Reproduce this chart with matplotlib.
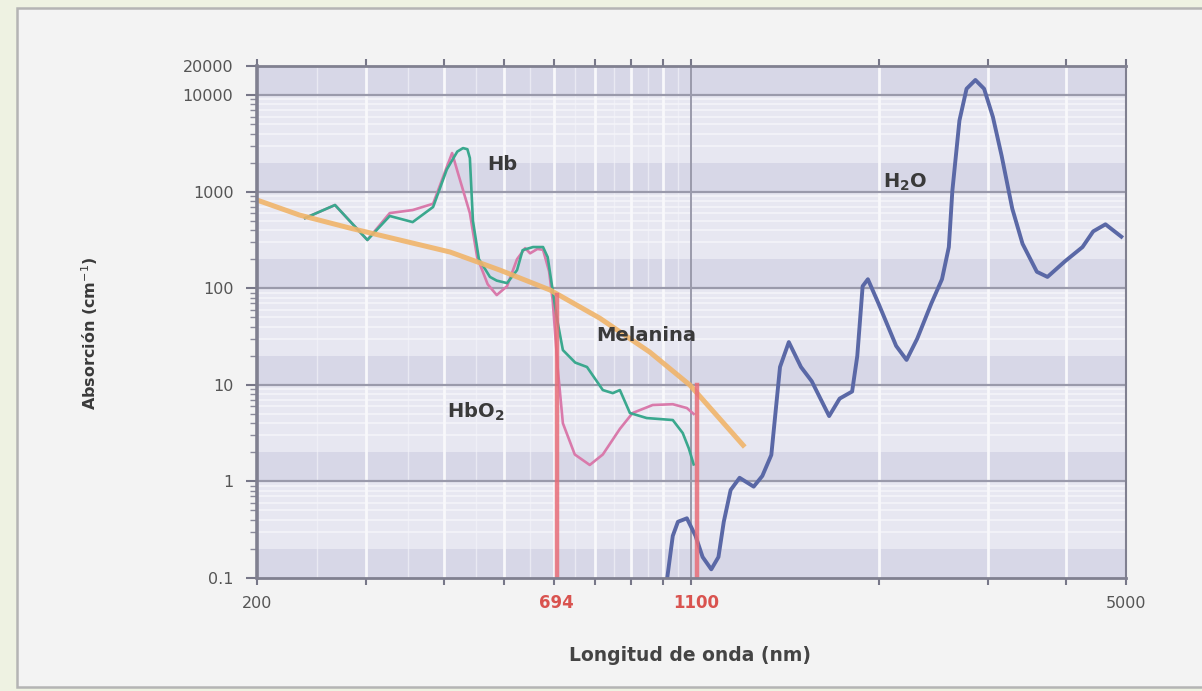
import numpy as np
import matplotlib
matplotlib.use("Agg")
import matplotlib.pyplot as plt
from matplotlib.patches import Rectangle
from matplotlib.ticker import FixedLocator, NullFormatter

# ---------------- data ----------------
melanin_x = [200, 234, 282, 340, 409, 492, 592, 712, 857, 994, 1218]
melanin_y = [819, 573, 420, 315, 237, 154, 96, 49, 21.8, 9.95, 2.27]

hb_x = [239, 267, 301, 327, 356, 384, 404, 420, 429, 436, 440, 445, 455, 474, 486, 505,
        524, 535, 556, 577, 587, 607, 621, 650, 679, 720, 747, 767, 796, 847, 933, 968, 990, 1008]
hb_y = [533, 727, 316, 560, 484, 694, 1700, 2600, 2826, 2750, 2230, 500, 200, 131, 120, 113,
        154, 248, 267, 267, 210, 50, 22.9, 17, 15.3, 8.83, 8.2, 8.83, 5.11, 4.53, 4.32, 3.17, 2.2, 1.5]

hbo2_x = [239, 267, 301, 327, 356, 384, 404, 412, 421, 440, 452, 470, 486, 505, 524, 540,
          550, 565, 577, 590, 598, 609, 621, 649, 686, 720, 767, 804, 866, 933, 983, 1008]
hbo2_y = [533, 727, 316, 600, 645, 750, 1800, 2511, 1559, 600, 210, 110, 85, 105, 200, 260,
          230, 255, 250, 150, 75, 15.3, 4.0, 1.9, 1.48, 1.9, 3.5, 5.11, 6.18, 6.3, 5.75, 5.0]

h2o_x = [914, 933, 951, 983, 1015, 1042, 1076, 1105, 1127, 1156, 1195, 1259, 1300, 1344,
         1388, 1434, 1500, 1561, 1665, 1731, 1813, 1848, 1885, 1922, 1999, 2134, 2218, 2307,
         2431, 2529, 2594, 2628, 2698, 2770, 2862, 2956, 3054, 3154, 3281, 3408, 3594, 3738,
         3988, 4256, 4428, 4634, 4914]
h2o_y = [0.1, 0.273, 0.382, 0.415, 0.273, 0.165, 0.123, 0.165, 0.382, 0.815, 1.09, 0.883,
         1.14, 1.88, 15.3, 27.7, 15.3, 10.9, 4.75, 7.2, 8.53, 19.9, 105, 124, 69.5, 25.3,
         18.1, 30, 69.5, 124, 267, 1019, 5458, 11620, 14330, 11620, 5931, 2359, 668, 289,
         148, 131, 190, 267, 388, 459, 342]

laser_x = [607, 1019]          # where the red lines are drawn in the picture
laser_top = [85, 10]
laser_labels = ["694", "1100"]

x_ticks = [200, 300, 400, 500, 600, 700, 800, 900, 1000, 2000, 3000, 4000, 5000]
x_ticklabels = ["200", "", "", "", "", "", "", "", "", "", "", "", "5000"]
y_ticks = [0.1, 1, 10, 100, 1000, 10000, 20000]
y_ticklabels = ["0.1", "1", "10", "100", "1000", "10000", "20000"]

# ---------------- figure ----------------
W, H = 1202, 691
fig = plt.figure(figsize=(W / 100, H / 100), dpi=100)
fig.patch.set_facecolor("#eef2e2")
fig.patches.append(Rectangle((17 / W, 1 - 687 / H), 1.0, (687 - 8) / H,
                             transform=fig.transFigure, facecolor="#f3f3f3",
                             edgecolor="#b4b4b4", lw=1.8, zorder=-10))

ax = fig.add_axes([257 / W, 1 - 578 / H, (1126 - 257) / W, (578 - 66) / H])
ax.set_zorder(5)
ax.set_xscale("log")
ax.set_yscale("log")
ax.set_xlim(200, 5000)
ax.set_ylim(0.1, 20000)
ax.set_facecolor("#e7e7f1")

dark = "#d7d7e7"
light = "#e7e7f1"
for n in range(-1, 5):
    lo = 10.0 ** n
    ax.axhspan(lo, 2 * lo, color=dark, zorder=0, lw=0)
    ax.axhspan(2 * lo, 10 * lo, color=light, zorder=0, lw=0)
    for k in range(3, 10):
        ax.axhline(k * lo, color="#f4f4f9", lw=1.2, zorder=0.5)
    if n >= 0:
        ax.axhline(lo, color="#9a9aab", lw=1.6, zorder=0.6)

for xv in [250, 350, 450, 550, 650, 750, 850, 950]:
    ax.axvline(xv, color="#f6f6fa", lw=1.0, alpha=0.6, zorder=0.5)
for xv in [300, 400, 500, 600, 700, 800, 900, 2000, 3000, 4000]:
    ax.axvline(xv, color="#f8f8fb", lw=2.0, zorder=0.55)
ax.axvline(1000, color="#9a9aab", lw=1.4, zorder=0.6)

# ---------------- curves ----------------
ax.plot(hbo2_x, hbo2_y, color="#d97aab", lw=1.9, zorder=3)
ax.plot(hb_x, hb_y, color="#3aa88e", lw=1.9, zorder=3.1)
ax.plot(melanin_x, melanin_y, color="#f0b46a", lw=3.6, alpha=0.9, zorder=4,
        solid_capstyle="butt")
ax.plot(h2o_x, h2o_y, color="#5a68a6", lw=2.8, zorder=4)
for xv, top in zip(laser_x, laser_top):
    ax.plot([xv, xv], [0.1, top], color="#e86d78", lw=3.2, alpha=0.85, zorder=5)

# ---------------- annotations ----------------
tk = dict(fontsize=14, fontweight="bold", color="#3a3a3a", zorder=6)
ax.text(470, 1900, "Hb", ha="left", va="center", **tk)
ax.text(704, 32.8, "Melanina", ha="left", va="center", **tk)
ax.text(404, 5.2, "HbO$_\\mathbf{2}$", ha="left", va="center", **tk)
ax.text(2032, 1257, "H$_\\mathbf{2}$O", ha="left", va="center", **tk)

for xv, lab in zip(laser_x, laser_labels):
    ax.text(xv, -0.049, lab, transform=ax.get_xaxis_transform(), ha="center",
            va="center", fontsize=12, fontweight="bold", color="#d9534f")

# ---------------- axes styling ----------------
ax.xaxis.set_major_locator(FixedLocator(x_ticks))
ax.set_xticklabels(x_ticklabels)
ax.xaxis.set_minor_locator(FixedLocator([]))
ax.xaxis.set_minor_formatter(NullFormatter())
ax.tick_params(axis="x", which="major", direction="out", length=5, width=1.5,
               color="#777788", top=True, labelsize=11.5, labelcolor="#555555", pad=8)

ax.yaxis.set_major_locator(FixedLocator(y_ticks))
ax.set_yticklabels(y_ticklabels)
minor_y = [k * 10.0 ** n for n in range(-1, 4) for k in range(2, 10)]
ax.yaxis.set_minor_locator(FixedLocator(minor_y))
ax.yaxis.set_minor_formatter(NullFormatter())
ax.tick_params(axis="y", which="major", direction="out", length=8, width=1.5,
               color="#777788", labelsize=11.5, labelcolor="#555555", pad=9)
ax.tick_params(axis="y", which="minor", direction="out", length=5, width=1.0,
               color="#8a8a9a")

for side, lw in [("left", 2.6), ("bottom", 2.0), ("top", 2.0), ("right", 1.5)]:
    ax.spines[side].set_color("#808090")
    ax.spines[side].set_linewidth(lw)
    ax.spines[side].set_zorder(7)

ax.set_ylabel("Absorción (cm$^{-1}$)", fontsize=11.5, fontweight="bold", color="#3a3a3a")
ax.yaxis.set_label_coords(-0.181, 0.478)
ax.set_xlabel("Longitud de onda (nm)", fontsize=13.5, fontweight="bold", color="#444444")
ax.xaxis.set_label_coords(0.498, -0.133)

fig.savefig("out.png", dpi=100, facecolor=fig.get_facecolor())
